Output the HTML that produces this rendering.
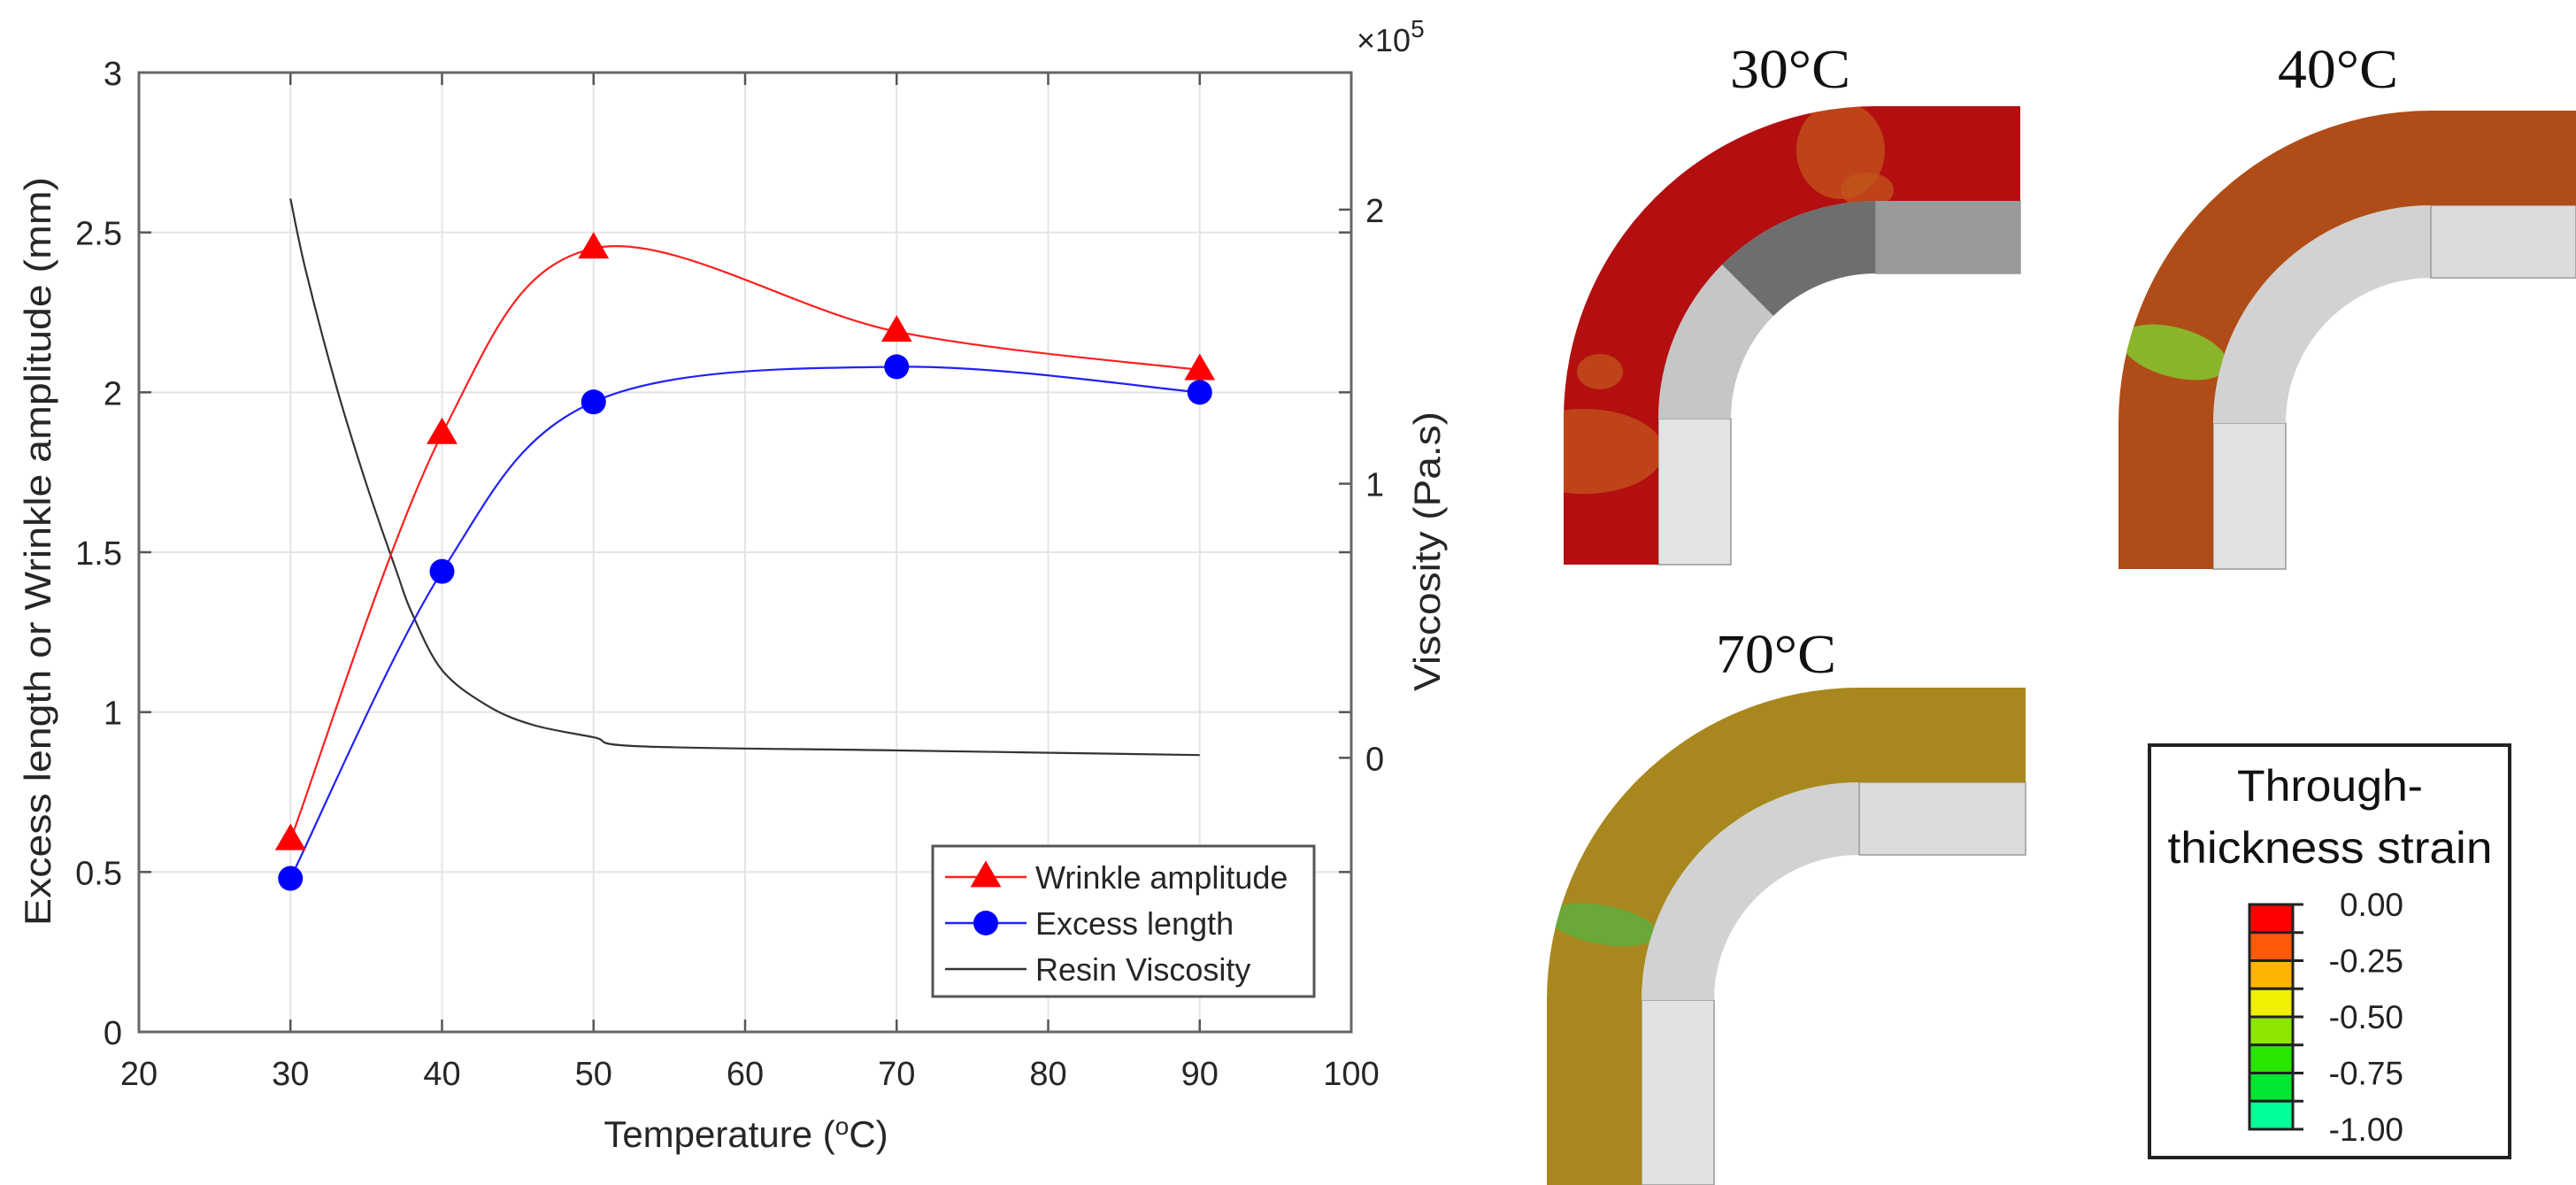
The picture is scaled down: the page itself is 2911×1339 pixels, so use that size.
<!DOCTYPE html>
<html><head><meta charset="utf-8"><style>
html,body{margin:0;padding:0;background:#fff;}
svg{display:block;}
text{font-family:"Liberation Sans",sans-serif;}
text.serif{font-family:"Liberation Serif",serif;}
</style></head>
<body>
<svg id="fig" width="2911" height="1339" viewBox="0 0 2911 1339" xmlns="http://www.w3.org/2000/svg">
<g id="chart"></g>
<g id="panels"></g>
</svg>
<script>
// ---- chart data ----
const temps = [30, 40, 50, 70, 90];
const wrinkle = [0.6, 1.87, 2.45, 2.19, 2.07];
const excess = [0.48, 1.44, 1.97, 2.08, 2.0];
const viscT = [30, 31, 33, 35, 37, 38, 40, 43, 46, 50, 53, 70, 90];
const viscV = [2.04, 1.78, 1.36, 1.0, 0.68, 0.53, 0.32, 0.19, 0.12, 0.075, 0.042, 0.027, 0.01];
const xTicks = [20, 30, 40, 50, 60, 70, 80, 90, 100];
const yTicks = [0, 0.5, 1, 1.5, 2, 2.5, 3];
const yTickLabels = ["0", "0.5", "1", "1.5", "2", "2.5", "3"];
const rTicks = [0, 1, 2];
const legendLabels = ["Wrinkle amplitude", "Excess length", "Resin Viscosity"];
const strainLabels = ["0.00", "-0.25", "-0.50", "-0.75", "-1.00"];
const strainColors = ["#ff0000", "#ff5a0a", "#ffb400", "#f0f000", "#8ce600", "#28e600", "#00e632", "#00ff96"];

const NS = "http://www.w3.org/2000/svg";
const L = 157, R = 1527, T = 82, B = 1166;
const X = t => L + (t - 20) / 80 * (R - L);
const Y = v => B - v / 3 * (B - T);
const YR = v => B - (v + 1) / 3.5 * (B - T);

function mk(tag, attrs, parent) {
  const e = document.createElementNS(NS, tag);
  for (const k in attrs) e.setAttribute(k, attrs[k]);
  parent.appendChild(e);
  return e;
}
function smooth(pts) {
  let d = `M${pts[0][0]},${pts[0][1]}`;
  for (let i = 0; i < pts.length - 1; i++) {
    const p0 = pts[Math.max(0, i - 1)], p1 = pts[i], p2 = pts[i + 1], p3 = pts[Math.min(pts.length - 1, i + 2)];
    const c1 = [p1[0] + (p2[0] - p0[0]) / 6, p1[1] + (p2[1] - p0[1]) / 6];
    const c2 = [p2[0] - (p3[0] - p1[0]) / 6, p2[1] - (p3[1] - p1[1]) / 6];
    d += ` C${c1[0]},${c1[1]} ${c2[0]},${c2[1]} ${p2[0]},${p2[1]}`;
  }
  return d;
}
const chart = document.getElementById('chart');

// grid
xTicks.forEach(t => {
  if (t === 20 || t === 100) return;
  const g = mk('line', {x1: X(t), x2: X(t), y1: T, y2: B, stroke: '#e4e4e4', 'stroke-width': 2}, chart);
  
  
});
yTicks.forEach(v => {
  if (v === 0 || v === 3) return;
  const g = mk('line', {x1: L, x2: R, y1: Y(v), y2: Y(v), stroke: '#e4e4e4', 'stroke-width': 2}, chart);
  
  
});
// ticks
xTicks.forEach(t => {
  const a = mk('line', {x1: X(t), x2: X(t), y1: B, y2: B - 14, stroke: '#555', 'stroke-width': 2.5}, chart);
  
  
  const b = mk('line', {x1: X(t), x2: X(t), y1: T, y2: T + 14, stroke: '#555', 'stroke-width': 2.5}, chart);
  
  
  const lb = mk('text', {x: X(t), y: 1226, 'text-anchor': 'middle', 'font-size': 38, fill: '#262626'}, chart);
  lb.textContent = t;
  
  
});
yTicks.forEach((v, i) => {
  const a = mk('line', {x1: L, x2: L + 14, y1: Y(v), y2: Y(v), stroke: '#555', 'stroke-width': 2.5}, chart);
  
  
  const b = mk('line', {x1: R, x2: R - 14, y1: Y(v), y2: Y(v), stroke: '#555', 'stroke-width': 2.5}, chart);
  
  
  const lb = mk('text', {x: 138, y: Y(v) + 14, 'text-anchor': 'end', 'font-size': 38, fill: '#262626'}, chart);
  lb.textContent = yTickLabels[i];
  
  
});
rTicks.forEach(v => {
  const a = mk('line', {x1: R, x2: R - 14, y1: YR(v), y2: YR(v), stroke: '#555', 'stroke-width': 2.5}, chart);
  
  
  const lb = mk('text', {x: 1543, y: YR(v) + 14, 'font-size': 38, fill: '#262626'}, chart);
  lb.textContent = v;
  
  
});
// axes box
const box = mk('rect', {x: L, y: T, width: R - L, height: B - T, fill: 'none', stroke: '#666', 'stroke-width': 3}, chart);



// viscosity line
const vl = mk('path', {d: smooth(viscT.map((t, i) => [X(t), YR(viscV[i])])), fill: 'none', stroke: '#333', 'stroke-width': 2.2}, chart);


// wrinkle and excess
const rl = mk('path', {d: smooth(temps.map((t, i) => [X(t), Y(wrinkle[i])])), fill: 'none', stroke: '#ff2020', 'stroke-width': 2.2}, chart);


const bl = mk('path', {d: smooth(temps.map((t, i) => [X(t), Y(excess[i])])), fill: 'none', stroke: '#2020ff', 'stroke-width': 2.2}, chart);


function tri(cx, cy, s) { return `${cx},${cy - s * 0.62} ${cx - s * 0.58},${cy + s * 0.38} ${cx + s * 0.58},${cy + s * 0.38}`; }
temps.forEach((t, i) => {
  const m = mk('polygon', {points: tri(X(t), Y(wrinkle[i]), 30), fill: '#ff0000'}, chart);
  
  
  const c = mk('circle', {cx: X(t), cy: Y(excess[i]), r: 14, fill: '#0000ff'}, chart);
  
  
});

// axis titles
const yt = mk('text', {x: 0, y: 0, transform: 'translate(57,623) rotate(-90)', 'text-anchor': 'middle', 'font-size': 42, fill: '#262626', textLength: 846, lengthAdjust: 'spacingAndGlyphs'}, chart);
yt.textContent = 'Excess length or Wrinkle amplitude (mm)';


const rt = mk('text', {x: 0, y: 0, transform: 'translate(1627,623) rotate(-90)', 'text-anchor': 'middle', 'font-size': 42, fill: '#262626', textLength: 316, lengthAdjust: 'spacingAndGlyphs'}, chart);
rt.textContent = 'Viscosity (Pa.s)';


const xt = mk('text', {x: 843, y: 1296, 'text-anchor': 'middle', 'font-size': 42, fill: '#262626'}, chart);
xt.innerHTML = 'Temperature (<tspan dy="-14" font-size="28">o</tspan><tspan dy="14">C)</tspan>';


const ex = mk('text', {x: 1533, y: 58, 'font-size': 36, fill: '#262626'}, chart);
ex.innerHTML = '×10<tspan dy="-16" font-size="28">5</tspan>';



// legend
const lg = mk('rect', {x: 1054, y: 956, width: 431, height: 170, fill: '#fff', stroke: '#555', 'stroke-width': 3}, chart);


const lys = [991, 1043, 1095], lcols = ['#ff2020', '#2020ff', '#333'];
legendLabels.forEach((s, i) => {
  const ln = mk('line', {x1: 1068, x2: 1160, y1: lys[i], y2: lys[i], stroke: lcols[i], 'stroke-width': 2.5}, chart);
  
  
  if (i === 0) {
    const m = mk('polygon', {points: tri(1114, lys[i], 30), fill: '#ff0000'}, chart);
    
    
  } else if (i === 1) {
    const m = mk('circle', {cx: 1114, cy: lys[i], r: 14, fill: '#0000ff'}, chart);
    
    
  }
  const tx = mk('text', {x: 1170, y: lys[i] + 13, 'font-size': 36, fill: '#262626'}, chart);
  tx.textContent = s;
  
  
});

// ---- panels ----
const P = document.getElementById('panels');
function panel(dx, dy, bottom, right, lamCol, toolCols, title, tx, ty, id) {
  const g = mk('g', {transform: `translate(${dx},${dy})`}, P);
  
  
  const cx = 2120, cy = 473, R0 = 353, R1 = 246, R2 = 164, bt = bottom - dy, rt = right - dx;
  const tv = mk('rect', {x: cx - R1, y: cy, width: R1 - R2, height: bt - cy, fill: toolCols[0], stroke: '#999', 'stroke-width': 1.5}, g);
  
  
  const a45 = Math.SQRT1_2;
  const ta = mk('path', {d: `M${cx - R1},${cy} A${R1},${R1} 0 0 1 ${cx - R1 * a45},${cy - R1 * a45} L${cx - R2 * a45},${cy - R2 * a45} A${R2},${R2} 0 0 0 ${cx - R2},${cy} Z`, fill: toolCols[1]}, g);
  
  
  const tb = mk('path', {d: `M${cx - R1 * a45},${cy - R1 * a45} A${R1},${R1} 0 0 1 ${cx},${cy - R1} L${cx},${cy - R2} A${R2},${R2} 0 0 0 ${cx - R2 * a45},${cy - R2 * a45} Z`, fill: toolCols[2]}, g);
  
  
  const th = mk('rect', {x: cx, y: cy - R1, width: rt - cx, height: R1 - R2, fill: toolCols[3], stroke: '#999', 'stroke-width': 1.5}, g);
  
  
  const lamD = `M${cx - R0},${bt} L${cx - R0},${cy} A${R0},${R0} 0 0 1 ${cx},${cy - R0} L${rt},${cy - R0} L${rt},${cy - R1} L${cx},${cy - R1} A${R1},${R1} 0 0 0 ${cx - R1},${cy} L${cx - R1},${bt} Z`;
  const cp = mk('clipPath', {id: 'clip-' + id}, g);
  mk('path', {d: lamD}, cp);
  const lam = mk('path', {d: lamD, fill: lamCol}, g);
  
  
  const t = mk('text', {x: tx - dx, y: ty - dy, 'text-anchor': 'middle', 'font-size': 62, fill: '#111', class: 'serif', textLength: 136, lengthAdjust: 'spacingAndGlyphs'}, g);
  t.textContent = title;
  
  
  const pg = mk('g', {'clip-path': `url(#clip-${id})`}, g);
  return pg;
}
const g1 = panel(0, 0, 638, 2283, '#b30f10', ['#e3e3e3', '#c6c6c6', '#6e6e6e', '#999999'], '30°C', 2023, 99, 't30');
[[1790, 510, 90, 48], [1808, 420, 26, 20], [2080, 170, 50, 55], [2110, 215, 30, 20]].forEach(p => {
  const e = mk('ellipse', {cx: p[0], cy: p[1], rx: p[2], ry: p[3], fill: '#c2551c', opacity: 0.75}, g1);
  
  
});
const g2 = panel(627, 5, 643, 2911, '#b04c18', ['#e2e2e2', '#d2d2d2', '#d2d2d2', '#dcdcdc'], '40°C', 2642, 99, 't40');
const w2 = mk('ellipse', {cx: 1830, cy: 393, rx: 62, ry: 28, fill: '#8ab52a', transform: 'rotate(15 1830 393)'}, g2);


const g3 = panel(-19, 657, 1339, 2289, '#a8881e', ['#e2e2e2', '#d2d2d2', '#d2d2d2', '#dcdcdc'], '70°C', 2007, 760, 't70');
const w3 = mk('ellipse', {cx: 1830, cy: 388, rx: 62, ry: 22, fill: '#6aa83a', transform: 'rotate(10 1830 388)'}, g3);



// strain legend
const sl = mk('rect', {x: 2429, y: 842, width: 407, height: 466, fill: '#fff', stroke: '#222', 'stroke-width': 4}, P);


['Through-', 'thickness strain'].forEach((s, i) => {
  const t = mk('text', {x: 2633, y: [905, 975][i], 'text-anchor': 'middle', 'font-size': 50, fill: '#111', textLength: [210, 367][i], lengthAdjust: 'spacingAndGlyphs'}, P);
  t.textContent = s;
  
  
});
const cbT = 1022, cbB = 1276, bh = (cbB - cbT) / strainColors.length;
strainColors.forEach((c, i) => {
  const r = mk('rect', {x: 2542, y: cbT + i * bh, width: 49, height: bh, fill: c, stroke: '#222', 'stroke-width': 3}, P);
  
  
});
for (let i = 0; i <= strainColors.length; i++) {
  const tk = mk('line', {x1: 2591, x2: 2603, y1: cbT + i * bh, y2: cbT + i * bh, stroke: '#222', 'stroke-width': 3}, P);
  
  
}
strainLabels.forEach((s, i) => {
  const t = mk('text', {x: 2716, y: cbT + i * 2 * bh + 13, 'text-anchor': 'end', 'font-size': 37, fill: '#222'}, P);
  t.textContent = s;
  
  
});
</script>
</body></html>
